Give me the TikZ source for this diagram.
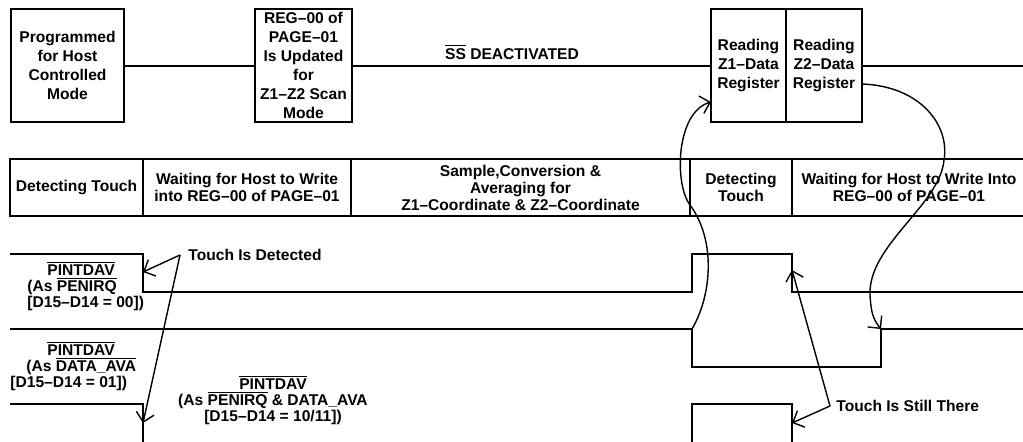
\documentclass[tikz,border=0pt]{standalone}
\usepackage{fontspec}
\setmainfont{Liberation Sans}
\usetikzlibrary{arrows.meta}
\setlength{\lineskiplimit}{-10pt}
\newcommand{\ovl}[1]{$\overline{\mbox{#1}}$}

\begin{document}
\begin{tikzpicture}[x=0.5pt,y=-0.5pt,
       box/.style={draw,line width=1pt,inner sep=0pt,align=center,font=\fontsize{7.8}{9.5}\selectfont\bfseries},
       cell/.style={draw,line width=1pt,inner sep=0pt,align=center,minimum height=28.5pt,font=\fontsize{7.8}{8.5}\selectfont\bfseries},
       lbl/.style={inner sep=0pt,align=center,font=\fontsize{7.8}{8}\selectfont\bfseries},
       wave/.style={line width=1pt},
       note/.style={-{Straight Barb[length=4.5pt,width=9pt]},line width=0.7pt}]
      \useasboundingbox (0,0) rectangle (1023,441);
      \node[box,minimum width=56.5pt,minimum height=56.5pt] (host) at (67.5,65.5) {Programmed\\for Host\\Controlled\\Mode};
      \node[box,minimum width=48.5pt,minimum height=56.5pt] (upd) at (303.5,65.5) {REG–00 of\\PAGE–01\\Is Updated\\for\\Z1–Z2 Scan\\Mode};
      \node[box,minimum width=37.5pt,minimum height=56.5pt] (rdz1) at (748.5,65.5) {Reading\\Z1–Data\\Register};
      \node[box,minimum width=38pt,minimum height=56.5pt] (rdz2) at (824,65.5) {Reading\\Z2–Data\\Register};
      \coordinate (topend) at (1030,65.5);
      \draw[wave] (host) -- (upd) (upd) -- (rdz1) (rdz2) -- (topend);
      \node[lbl] (ss) at (512,52) {\ovl{SS} DEACTIVATED};
      \node[cell,minimum width=66.5pt] (c1) at (76.5,187.5) {Detecting Touch};
      \node[cell,minimum width=104pt] (c2) at (247,187.5) {Waiting for Host to Write\\into REG–00 of PAGE–01};
      \node[cell,minimum width=169.5pt] (c3) at (520.5,187.5) {Sample,Conversion \&\\Averaging for\\Z1–Coordinate \& Z2–Coordinate};
      \node[cell,minimum width=51pt] (c4) at (741,187.5) {Detecting\\Touch};
      \node[cell,minimum width=117pt] (c5) at (909,187.5) {Waiting for Host to Write Into\\REG–00 of PAGE–01};
      \draw[wave] (10,254) -- (143,254) -- (143,292) -- (692,292) -- (692,254) -- (792,254) -- (792,292) -- (1030,292);
      \draw[wave] (10,329) -- (692,329) -- (692,367) -- (881,367) -- (881,329) -- (1030,329);
      \draw[wave] (10,404) -- (143,404) -- (143,445);
      \draw[wave] (692,445) -- (692,404) -- (792,404) -- (792,445);
      \node[lbl,anchor=west,align=left] (penirq) at (27,286) {\hspace*{10pt}\ovl{PINTDAV}\\(As \ovl{PENIRQ}\\{}[D15–D14 = 00])};
      \node[lbl,anchor=west,align=left] (dataava) at (10,366) {\hspace*{18.5pt}\ovl{PINTDAV}\\\hspace*{8pt}(As \ovl{DATA\_AVA}\\{}[D15–D14 = 01])};
      \node[lbl] (both) at (273,400) {\ovl{PINTDAV}\\(As \ovl{PENIRQ} \& DATA\_AVA\\{}[D15–D14 = 10/11])};
      \node[lbl,anchor=west,inner xsep=4pt] (detected) at (180,255) {Touch Is Detected};
      \node[lbl,anchor=west,inner xsep=3pt] (still) at (830,406) {Touch Is Still There};
      \coordinate (fall1) at (143,272);
      \coordinate (fall3) at (143,423);
      \coordinate (rise1) at (792,270);
      \coordinate (rise3) at (792,423);
      \coordinate (dip) at (692,329);
      \coordinate (rdin) at (711,102);
      \coordinate (rdout) at (862,84);
      \coordinate (back) at (881,329);
      \draw[note] (detected.west) -- (fall1);
      \draw[note] (detected.west) -- (fall3);
      \draw[note] (still.west) -- (rise1);
      \draw[note] (still.west) -- (rise3);
      \draw[note] (dip) .. controls (712,295) and (716,240) .. (690,205) .. controls (674,184) and (676,112) .. (rdin);
      \draw[note] (rdout) .. controls (920,86) and (950,125) .. (944,160) .. controls (940,205) and (868,245) .. (870,295) .. controls (871,310) and (872,318) .. (back);
    \end{tikzpicture}
\end{document}
